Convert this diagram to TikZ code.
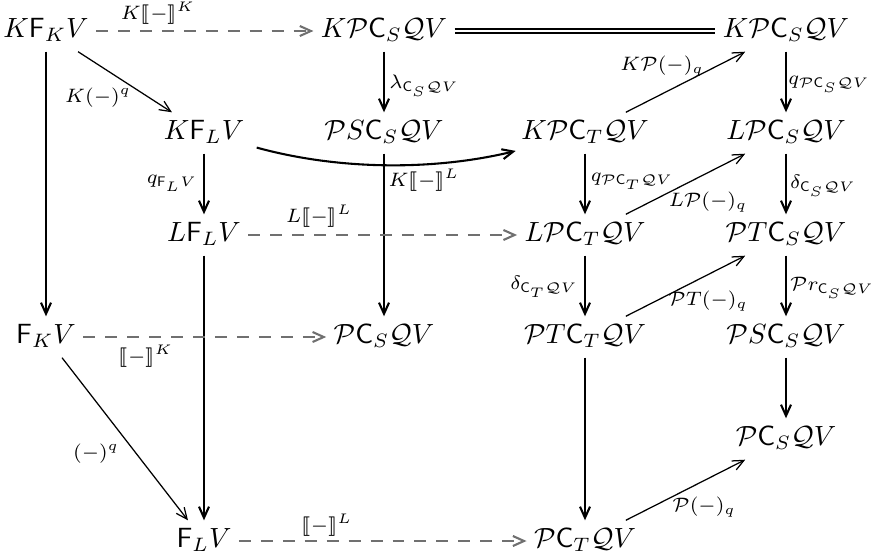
\documentclass[tikz,border=0pt]{standalone}
\usepackage{amsmath,amssymb}
\usepackage{stmaryrd}
\usetikzlibrary{arrows.meta}
\definecolor{dashgray}{RGB}{112,112,112}
\begin{document}
\begin{tikzpicture}[x=0.36pt,y=-0.36pt,
  obj/.style={inner sep=2.5pt, text height=7pt, text depth=2.5pt},
  lab/.style={inner sep=0pt},
  tip/.style={-{Straight Barb[length=4pt,width=3.6pt]}},
  mainarr/.style={line width=0.75pt, tip},
  thinarr/.style={line width=0.45pt, tip},
  dasharr/.style={line width=0.75pt, draw=dashgray, dash pattern=on 4.3pt off 3.6pt, tip},
  dblline/.style={double, line width=0.7pt, double distance=0.8pt}]
\useasboundingbox (0,0) rectangle (872,559);
% objects
\node[obj] (KFK)   at (46,31)  {$K\mathsf{F}_K V$};
\node[obj] (KPCS1) at (384,31) {$K\mathcal{P}\mathsf{C}_S\mathcal{Q}V$};
\node[obj] (KPCS2) at (786,31) {$K\mathcal{P}\mathsf{C}_S\mathcal{Q}V$};
\node[obj] (KFL)   at (204,133) {$K\mathsf{F}_L V$};
\node[obj] (PSCS1) at (384,133) {$\mathcal{P}S\mathsf{C}_S\mathcal{Q}V$};
\node[obj] (KPCT)  at (585,133) {$K\mathcal{P}\mathsf{C}_T\mathcal{Q}V$};
\node[obj] (LPCS)  at (786,133) {$L\mathcal{P}\mathsf{C}_S\mathcal{Q}V$};
\node[obj] (LFL)   at (204,235) {$L\mathsf{F}_L V$};
\node[obj] (LPCT)  at (585,235) {$L\mathcal{P}\mathsf{C}_T\mathcal{Q}V$};
\node[obj] (PTCS)  at (786,235) {$\mathcal{P}T\mathsf{C}_S\mathcal{Q}V$};
\node[obj] (FK)    at (46,337) {$\mathsf{F}_K V$};
\node[obj] (PCS1)  at (384,337) {$\mathcal{P}\mathsf{C}_S\mathcal{Q}V$};
\node[obj] (PTCT)  at (585,337) {$\mathcal{P}T\mathsf{C}_T\mathcal{Q}V$};
\node[obj] (PSCS2) at (786,337) {$\mathcal{P}S\mathsf{C}_S\mathcal{Q}V$};
\node[obj] (PCS2)  at (786,439) {$\mathcal{P}\mathsf{C}_S\mathcal{Q}V$};
\node[obj] (FL)    at (204,541) {$\mathsf{F}_L V$};
\node[obj] (PCT)   at (585,541) {$\mathcal{P}\mathsf{C}_T\mathcal{Q}V$};
% control points of the curved arrow
\coordinate (c1) at (340,170.5);
\coordinate (c2) at (435,170.5);
% arrows
\draw[dasharr] (KFK) -- (KPCS1);
\draw[dblline] (KPCS1) -- (KPCS2);
\draw[thinarr] (KFK) -- (KFL);
\draw[mainarr] (KFK) -- (FK);
\draw[mainarr] (KPCS1) -- (PSCS1);
\draw[mainarr] ([xshift=1.8pt,yshift=2.2pt]KFL.south east) .. controls (c1) and (c2) .. ([xshift=0.7pt,yshift=1pt]KPCT.south west);
\draw[mainarr] (KFL) -- (LFL);
\draw[mainarr] (PSCS1) -- (PCS1);
\draw[thinarr] (KPCT) -- (KPCS2);
\draw[mainarr] (KPCS2) -- (LPCS);
\draw[mainarr] (KPCT) -- (LPCT);
\draw[mainarr] (LPCS) -- (PTCS);
\draw[thinarr] (LPCT) -- (LPCS);
\draw[dasharr] (LFL) -- (LPCT);
\draw[mainarr] (LFL) -- (FL);
\draw[mainarr] (LPCT) -- (PTCT);
\draw[mainarr] (PTCS) -- (PSCS2);
\draw[thinarr] (PTCT) -- (PTCS);
\draw[dasharr] (FK) -- (PCS1);
\draw[thinarr] (FK) -- (FL);
\draw[mainarr] (PSCS2) -- (PCS2);
\draw[mainarr] (PTCT) -- (PCT);
\draw[dasharr] (FL) -- (PCT);
\draw[thinarr] (PCT) -- (PCS2);
% labels
\node[lab] (l1)  at (158,13)  {$\scriptstyle K\llbracket-\rrbracket^K$};
\node[lab] (l2)  at (98,98)   {$\scriptstyle K(-)^q$};
\node[lab] (l3)  at (424,86)  {$\scriptstyle \lambda_{\mathsf{C}_S\mathcal{Q}V}$};
\node[lab] (l4)  at (662,66)  {$\scriptstyle K\mathcal{P}(-)_q$};
\node[lab] (l5)  at (829,84)  {$\scriptstyle q_{\mathcal{P}\mathsf{C}_S\mathcal{Q}V}$};
\node[lab] (l6)  at (172,183) {$\scriptstyle q_{\mathsf{F}_L V}$};
\node[lab] (l7)  at (424,180) {$\scriptstyle K\llbracket-\rrbracket^L$};
\node[lab] (l8)  at (319,216) {$\scriptstyle L\llbracket-\rrbracket^L$};
\node[lab] (l9)  at (632,181) {$\scriptstyle q_{\mathcal{P}\mathsf{C}_T\mathcal{Q}V}$};
\node[lab] (l10) at (708,202) {$\scriptstyle L\mathcal{P}(-)_q$};
\node[lab] (l11) at (823,186) {$\scriptstyle \delta_{\mathsf{C}_S\mathcal{Q}V}$};
\node[lab] (l12) at (544,287) {$\scriptstyle \delta_{\mathsf{C}_T\mathcal{Q}V}$};
\node[lab] (l13) at (832,288) {$\scriptstyle \mathcal{P}r_{\mathsf{C}_S\mathcal{Q}V}$};
\node[lab] (l14) at (708,301) {$\scriptstyle \mathcal{P}T(-)_q$};
\node[lab] (l15) at (146,356) {$\scriptstyle \llbracket-\rrbracket^K$};
\node[lab] (l16) at (96,454)  {$\scriptstyle (-)^q$};
\node[lab] (l17) at (327,525) {$\scriptstyle \llbracket-\rrbracket^L$};
\node[lab] (l18) at (704,507) {$\scriptstyle \mathcal{P}(-)_q$};
\end{tikzpicture}
\end{document}
